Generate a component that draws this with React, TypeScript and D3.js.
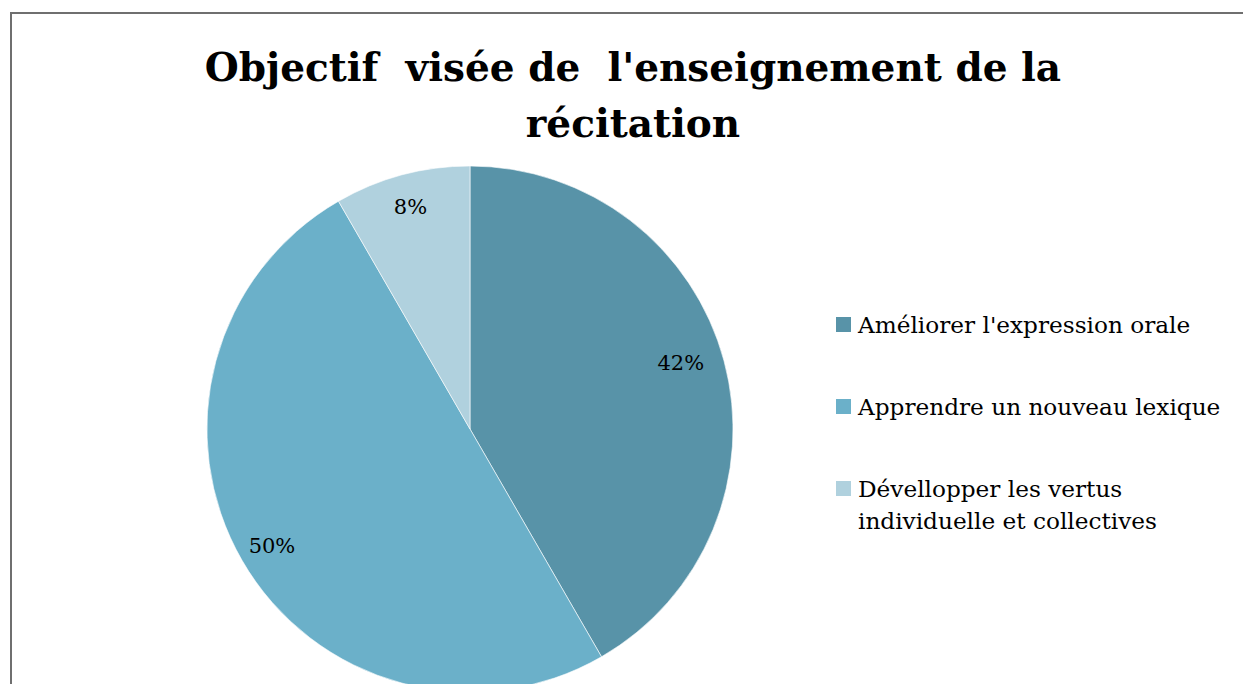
import React, { useEffect, useRef } from 'react';
import * as d3 from 'd3';

// Responses (counts): 5 / 6 / 1 of 12
const categories = [
  "Améliorer l'expression orale",
  'Apprendre un nouveau lexique',
  'Dévellopper les vertus individuelle et collectives',
];
const counts = [5, 6, 1];
const legendLines = [
  ["Améliorer l'expression orale"],
  ['Apprendre un nouveau lexique'],
  ['Dévellopper les vertus', 'individuelle et collectives'],
];
const colors = ['#5893a8', '#6bb0c9', '#b0d1de'];
const titleLines = ["Objectif  visée de  l'enseignement de la", 'récitation'];

const W = 1243;
const H = 684;
const FONT = '"DejaVu Serif", "Liberation Serif", serif';

export default function App() {
  const ref = useRef<SVGSVGElement>(null);

  useEffect(() => {
    document.body.style.margin = '0';
    const svg = d3.select(ref.current);
    svg.selectAll('*').remove();

    // chart frame
    svg.append('rect')
      .attr('x', 11).attr('y', 13)
      .attr('width', W + 20).attr('height', H + 20)
      .attr('fill', 'white')
      .attr('stroke', '#6f6f6f')
      .attr('stroke-width', 2);

    // title
    svg.append('text')
      .attr('x', 633)
      .attr('text-anchor', 'middle')
      .attr('font-family', FONT)
      .attr('font-weight', 'bold')
      .attr('font-size', 39)
      .attr('fill', '#000')
      .selectAll('tspan')
      .data(titleLines)
      .enter().append('tspan')
      .attr('x', 633)
      .attr('y', (d, i) => 81 + i * 56)
      .attr('xml:space', 'preserve')
      .style('white-space', 'pre')
      .text(d => d);

    const cx = 470;
    const cy = 429;
    const r = 263;
    const total = d3.sum(counts);

    const pie = d3.pie<number>().sort(null).value(d => d);
    const arcs = pie(counts);
    const arc = d3.arc<d3.PieArcDatum<number>>().innerRadius(0).outerRadius(r);
    const labelArc = d3.arc<d3.PieArcDatum<number>>().innerRadius(r * 0.83).outerRadius(r * 0.83);

    const g = svg.append('g').attr('transform', `translate(${cx},${cy})`);

    g.selectAll('path')
      .data(arcs)
      .enter().append('path')
      .attr('d', arc)
      .attr('fill', (d, i) => colors[i])
      .attr('stroke', 'white')
      .attr('stroke-width', 0.6);

    const labelOffsets = [[0, -10], [-9, 8], [-3, -11]];
    g.selectAll('text.pct')
      .data(arcs)
      .enter().append('text')
      .attr('class', 'pct')
      .attr('x', (d, i) => labelArc.centroid(d)[0] + labelOffsets[i][0])
      .attr('y', (d, i) => labelArc.centroid(d)[1] + labelOffsets[i][1])
      .attr('text-anchor', 'middle')
      .attr('dominant-baseline', 'central')
      .attr('font-family', FONT)
      .attr('font-size', 21)
      .attr('fill', '#000')
      .text(d => `${Math.round((d.value / total) * 100)}%`);

    // legend
    const legend = svg.append('g').attr('transform', 'translate(836,0)');
    const rowY = [325, 407, 489];
    legendLines.forEach((lines, i) => {
      legend.append('rect')
        .attr('x', 0)
        .attr('y', rowY[i] - 8)
        .attr('width', 15)
        .attr('height', 15)
        .attr('fill', colors[i]);
      const t = legend.append('text')
        .attr('font-family', FONT)
        .attr('font-size', 23.2)
        .attr('fill', '#000');
      lines.forEach((line, j) => {
        t.append('tspan')
          .attr('x', 22)
          .attr('y', rowY[i] + 8 + j * 32)
          .text(line);
      });
    });
  }, []);

  return <svg ref={ref} width={W} height={H} style={{ display: 'block' }} />;
}
